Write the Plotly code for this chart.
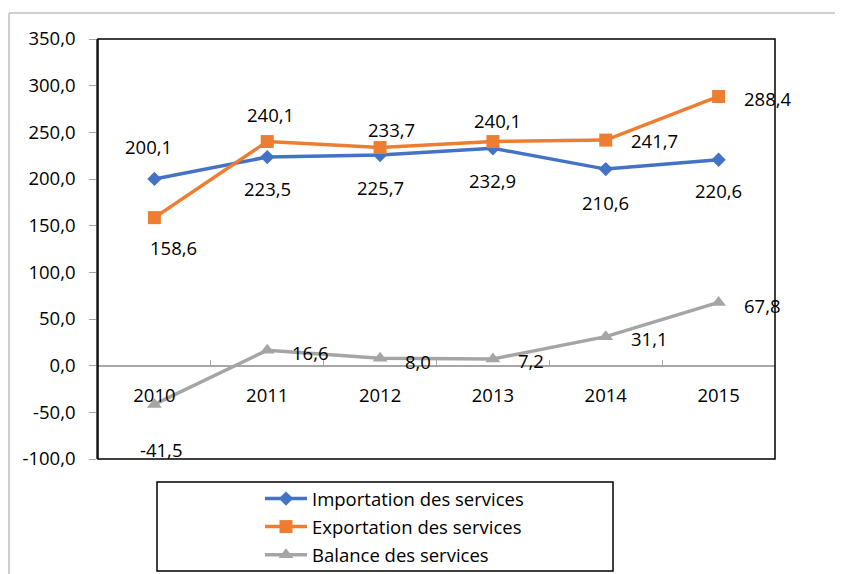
import plotly.graph_objects as go

# ---- data ----
years = ["2010", "2011", "2012", "2013", "2014", "2015"]
importation = [200.1, 223.5, 225.7, 232.9, 210.6, 220.6]
exportation = [158.6, 240.1, 233.7, 240.1, 241.7, 288.4]
balance = [-41.5, 16.6, 8.0, 7.2, 31.1, 67.8]
series_names = ["Importation des services", "Exportation des services", "Balance des services"]
y_ticks = [-100, -50, 0, 50, 100, 150, 200, 250, 300, 350]

# ---- styles ----
colors = ["#4472C4", "#ED7D31", "#A5A5A5"]
symbols = ["diamond", "square", "triangle-up"]
msizes = [11, 13, 13]
# label offsets per point: (mode, dx, dy) in pixels; dy positive = downward
label_offsets = [
    [("c", -6, -32), ("c", 0, 31), ("c", 0, 32), ("c", 0, 32), ("c", 0, 33), ("c", 0, 31)],
    [("c", 19, 30), ("c", 3, -27), ("c", 11, -18), ("c", 5, -21), ("l", 23, 0), ("l", 23, 2)],
    [("c", 7, 45), ("l", 23, 2), ("l", 23, 3), ("l", 23, 2), ("l", 23, 2), ("l", 23, 3)],
]

FONT = "Open Sans"
FS = 18.5
OFF = 8  # page body margin
W, H = 843 - OFF, 574 - OFF
PL, PR, PT, PB = 98, 775, 39, 459   # plot area in page pixels
L, T = PL - OFF, PT - OFF
R, B = W - (PR - OFF), H - (PB - OFF)
pw, ph = PR - PL, PB - PT
ymin, ymax = -100, 350

def px2paper_x(px):
    return (px - PL) / pw

def px2paper_y(py):
    return (PB - py) / ph

def fmt(v):
    return ("%.1f" % v).replace(".", ",")

fig = go.Figure()
all_series = [importation, exportation, balance]
for i, (name, vals) in enumerate(zip(series_names, all_series)):
    fig.add_trace(go.Scatter(
        x=years, y=vals, name=name, mode="lines+markers",
        line=dict(color=colors[i], width=3.5),
        marker=dict(symbol=symbols[i], size=msizes[i], color=colors[i]),
        legendgroup=str(i), cliponaxis=False,
    ))

annos = []
for vals, offs in zip(all_series, label_offsets):
    for idx, (v, (mode, dx, dy)) in enumerate(zip(vals, offs)):
        annos.append(dict(
            x=idx, y=v, xref="x", yref="y", text=fmt(v),
            showarrow=False, xanchor=("left" if mode == "l" else "center"),
            yanchor="middle", xshift=dx, yshift=-dy,
            font=dict(family=FONT, size=FS, color="black"),
        ))

shapes = [
    dict(type="line", xref="paper", yref="paper",
         x0=px2paper_x(9), x1=px2paper_x(850), y0=px2paper_y(13), y1=px2paper_y(13),
         line=dict(color="#BFBFBF", width=1.5)),
    dict(type="line", xref="paper", yref="paper",
         x0=px2paper_x(9), x1=px2paper_x(9), y0=px2paper_y(13), y1=px2paper_y(580),
         line=dict(color="#BFBFBF", width=1.5)),
    dict(type="rect", xref="paper", yref="paper", x0=0, x1=1, y0=0, y1=1,
         line=dict(color="#000000", width=1.5), layer="above"),
    dict(type="rect", xref="paper", yref="paper",
         x0=px2paper_x(157), x1=px2paper_x(613), y0=px2paper_y(482), y1=px2paper_y(571),
         line=dict(color="#000000", width=1.5)),
]

fig.update_layout(
    width=W, height=H,
    margin=dict(l=L, r=R, t=T, b=B, pad=0, autoexpand=False),
    paper_bgcolor="white", plot_bgcolor="white",
    font=dict(family=FONT, size=FS, color="#000000"),
    showlegend=True,
    legend=dict(x=px2paper_x(260), y=px2paper_y(480), xanchor="left", yanchor="top",
                bgcolor="rgba(0,0,0,0)", borderwidth=0, traceorder="grouped",
                tracegroupgap=1, itemwidth=42, font=dict(family=FONT, size=FS)),
    annotations=annos,
    shapes=shapes,
    xaxis=dict(type="category", range=[-0.5, 5.5], anchor="free",
               position=(0 - ymin) / (ymax - ymin),
               showline=True, linecolor="#A6A6A6", linewidth=1,
               ticks="inside", ticklen=6, tickcolor="#A6A6A6", tickson="boundaries",
               ticklabelstandoff=13,
               showgrid=False, zeroline=False,
               tickfont=dict(family=FONT, size=FS)),
    yaxis=dict(range=[ymin, ymax], tickmode="array", tickvals=y_ticks,
               ticktext=[fmt(t) for t in y_ticks],
               showline=True, linecolor="#595959", linewidth=1.5,
               ticks="outside", ticklen=7, tickcolor="#A6A6A6",
               ticklabelstandoff=10,
               showgrid=False, zeroline=True, zerolinecolor="#A6A6A6", zerolinewidth=1,
               tickfont=dict(family=FONT, size=FS)),
)

fig.write_html("out.html")
